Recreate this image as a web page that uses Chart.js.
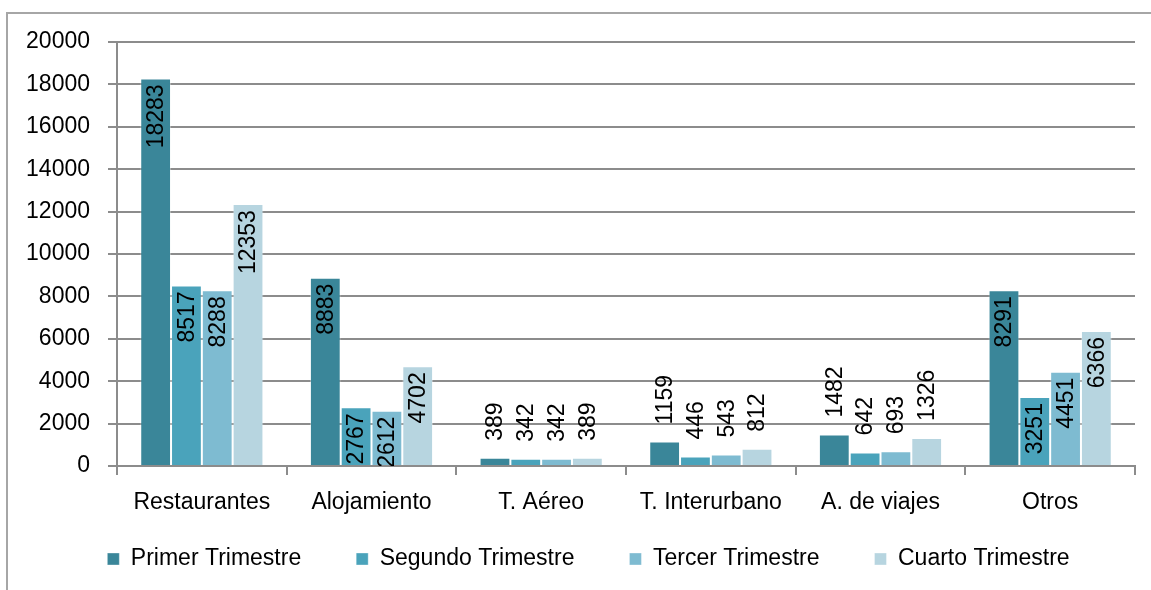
<!DOCTYPE html>
<html>
<head>
<meta charset="utf-8">
<script src="https://cdn.jsdelivr.net/npm/chart.js@4/dist/chart.umd.min.js"></script>
<style>
  html, body { margin: 0; padding: 0; background: #ffffff; }
  #wrap { width: 1151px; height: 590px; position: relative; }
</style>
</head>
<body>
<div id="wrap"><canvas id="c" width="1151" height="590"></canvas></div>
<script>
const categories = ['Restaurantes', 'Alojamiento', 'T. Aéreo', 'T. Interurbano', 'A. de viajes', 'Otros'];
const seriesNames = ['Primer Trimestre', 'Segundo Trimestre', 'Tercer Trimestre', 'Cuarto Trimestre'];
const primer = [18283, 8883, 389, 1159, 1482, 8291];
const segundo = [8517, 2767, 342, 446, 642, 3251];
const tercer = [8288, 2612, 342, 543, 693, 4451];
const cuarto = [12353, 4702, 389, 812, 1326, 6366];
const yTicks = [0, 2000, 4000, 6000, 8000, 10000, 12000, 14000, 16000, 18000, 20000];

const colors = ['#3A8699', '#4AA3BB', '#7EBBD1', '#B7D5E0'];
const FONT = "'Liberation Sans', Arial, sans-serif";
const FS = 23;
const GRID = '#8c8c8c';
const LEGEND_PAD = 55;

const frame = {
  id: 'frame',
  beforeDraw(chart) {
    const ctx = chart.ctx;
    ctx.save();
    ctx.strokeStyle = '#a6a6a6';
    ctx.lineWidth = 2;
    ctx.beginPath();
    ctx.moveTo(7, 590);
    ctx.lineTo(7, 13);
    ctx.lineTo(1151, 13);
    ctx.stroke();
    ctx.restore();
  }
};

const legendShift = {
  id: 'legendShift',
  afterLayout(chart) {
    const lg = chart.legend;
    if (!lg) return;
    const dx = 21;
    lg.left += dx;
    lg.right += dx;
    lg.top = 559 - FS / 2 - LEGEND_PAD;
    lg.bottom = 590;
    lg.height = lg.bottom - lg.top;
  }
};

const barLabels = {
  id: 'barLabels',
  afterDatasetsDraw(chart) {
    const ctx = chart.ctx;
    const area = chart.chartArea;
    ctx.save();
    ctx.beginPath();
    ctx.rect(area.left, 0, area.right - area.left, area.bottom);
    ctx.clip();
    ctx.font = FS + 'px ' + FONT;
    ctx.fillStyle = '#000000';
    ctx.textBaseline = 'middle';
    chart.data.datasets.forEach((ds, di) => {
      const meta = chart.getDatasetMeta(di);
      meta.data.forEach((bar, i) => {
        const v = ds.data[i];
        ctx.save();
        if (v >= 2000) {
          ctx.translate(bar.x, bar.y + 6);
          ctx.rotate(-Math.PI / 2);
          ctx.textAlign = 'right';
        } else {
          ctx.translate(bar.x, bar.y - 17);
          ctx.rotate(-Math.PI / 2);
          ctx.textAlign = 'left';
        }
        ctx.fillText(String(v), 0, 1);
        ctx.restore();
      });
    });
    ctx.restore();
  }
};

const seriesData = [primer, segundo, tercer, cuarto];

new Chart(document.getElementById('c'), {
  type: 'bar',
  data: {
    labels: categories,
    datasets: seriesNames.map((n, k) => ({
      label: n,
      data: seriesData[k],
      backgroundColor: colors[k],
      borderColor: 'rgba(255,255,255,0.35)',
      borderWidth: 1,
      barPercentage: 1.0,
      categoryPercentage: 0.726
    }))
  },
  options: {
    responsive: false,
    animation: false,
    devicePixelRatio: 1,
    layout: { padding: { left: 0, right: 16, top: 42, bottom: 34 } },
    plugins: {
      legend: {
        position: 'bottom',
        maxHeight: 40,
        labels: {
          boxWidth: 12,
          boxHeight: 12,
          padding: LEGEND_PAD,
          color: '#000000',
          font: { family: FONT, size: FS }
        }
      },
      tooltip: { enabled: false }
    },
    scales: {
      x: {
        grid: {
          display: true,
          drawOnChartArea: false,
          drawTicks: true,
          tickLength: 9,
          color: GRID,
          lineWidth: 2
        },
        border: { display: true, color: GRID, width: 2 },
        ticks: {
          color: '#000000',
          font: { family: FONT, size: FS },
          padding: 14,
          maxRotation: 0
        },
        afterFit(scale) { scale.height = 50; }
      },
      y: {
        min: 0,
        max: 20000,
        afterBuildTicks(scale) { scale.ticks = yTicks.map(v => ({ value: v })); },
        grid: {
          color: GRID,
          lineWidth: 2,
          tickLength: 9,
          drawTicks: true
        },
        border: { display: true, color: GRID, width: 2 },
        ticks: {
          color: '#000000',
          font: { family: FONT, size: FS },
          padding: 18,
          callback: (v) => String(v)
        },
        afterFit(scale) { scale.width = 117; }
      }
    }
  },
  plugins: [frame, legendShift, barLabels]
});
</script>
</body>
</html>
